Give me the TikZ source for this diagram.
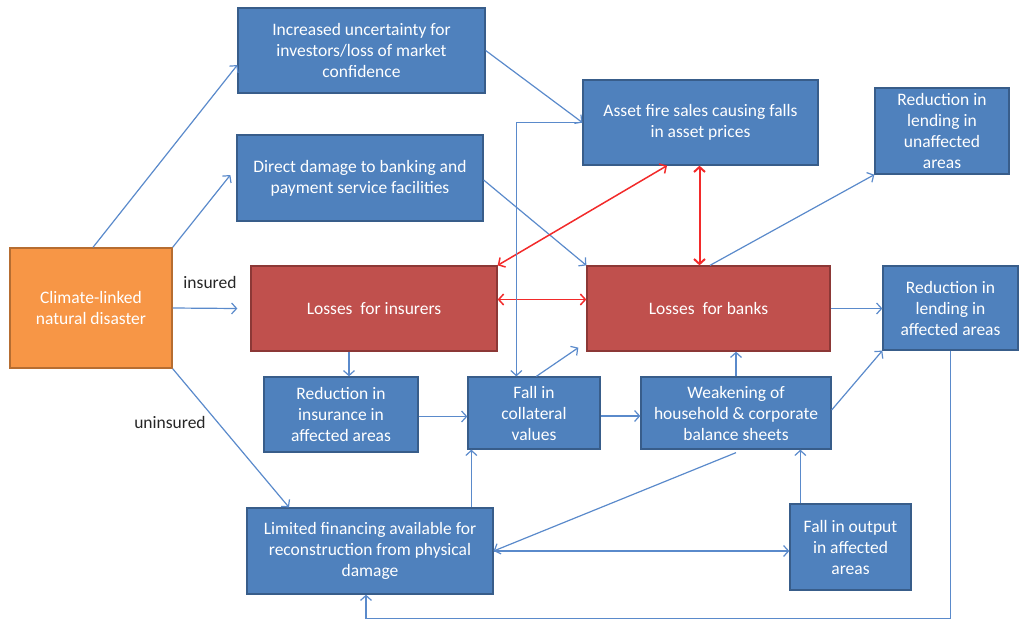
\documentclass[tikz,border=0pt]{standalone}
\usepackage{fontspec}
\setmainfont{Carlito}
\usetikzlibrary{arrows.meta}
\definecolor{bfill}{HTML}{4F81BD}
\definecolor{bdraw}{HTML}{385D8A}
\definecolor{rfill}{HTML}{C0504D}
\definecolor{rdraw}{HTML}{8C3836}
\definecolor{ofill}{HTML}{F79646}
\definecolor{odraw}{HTML}{B66D31}
\definecolor{lblue}{HTML}{5A8ACB}
\definecolor{rline}{HTML}{F22A2A}
\tikzset{
  box/.style={draw=bdraw, fill=bfill, line width=1.3pt, text=white, align=center, inner sep=0pt,
    font=\fontsize{17.5}{21}\selectfont},
  redbox/.style={box, draw=rdraw, fill=rfill},
  orbox/.style={box, draw=odraw, fill=ofill},
  conn/.style={draw=lblue, line width=1.2pt, -{Straight Barb[length=5pt,width=11pt]}},
  rconn/.style={draw=rline, line width=1.5pt, {Straight Barb[length=5pt,width=11pt]}-{Straight Barb[length=5pt,width=11pt]}},
  lbl/.style={text=black!85, font=\fontsize{17.5}{21}\selectfont, inner sep=0pt}
}
\begin{document}
\begin{tikzpicture}[x=1pt,y=-1pt]
\useasboundingbox (0,0) rectangle (1029,622);
% nodes
\node[box, minimum width=247pt, minimum height=85pt] (A) at (361.5,50.5) {Increased uncertainty for\\investors/loss of market\\confidence};
\node[box, minimum width=246pt, minimum height=86pt] (B) at (360,178) {Direct damage to banking and\\payment service facilities};
\node[orbox, minimum width=162pt, minimum height=120pt] (C) at (91,308) {Climate-linked\\natural disaster};
\node[redbox, minimum width=246pt, minimum height=85pt] (LI) at (374,308.5) {Losses\ \ for insurers};
\node[box, minimum width=235pt, minimum height=85pt] (AF) at (700.5,122.5) {Asset fire sales causing falls\\in asset prices};
\node[box, minimum width=134pt, minimum height=86pt] (RU) at (942,131) {Reduction in\\lending in\\unaffected\\areas};
\node[redbox, minimum width=243pt, minimum height=85pt] (LB) at (708.5,308.5) {Losses\ \ for banks};
\node[box, minimum width=135pt, minimum height=84pt] (RA) at (950.5,308) {Reduction in\\lending in\\affected areas};
\node[box, minimum width=154pt, minimum height=75pt] (RI) at (341,414.5) {Reduction in\\insurance in\\affected areas};
\node[box, minimum width=132pt, minimum height=72pt] (FC) at (534,413) {Fall in\\collateral\\values};
\node[box, minimum width=190pt, minimum height=72pt] (W) at (736,413) {Weakening of\\household \& corporate\\balance sheets};
\node[box, minimum width=246pt, minimum height=86pt] (LF) at (370,551) {Limited financing available for\\reconstruction from physical\\damage};
\node[box, minimum width=121pt, minimum height=86pt] (FO) at (850.5,547) {Fall in output\\in affected\\areas};
\node[lbl] (ins) at (210,282) {insured};
\node[lbl] (unins) at (170,422) {uninsured};
% connectors
\draw[conn] ([xshift=2pt]C.north) -- ([yshift=-14.5pt]A.west);
\draw[conn] (C.north east) -- ([xshift=-6pt,yshift=3pt]B.west);
\draw[conn] (C.east) -- ([xshift=-13pt]LI.west);
\draw[conn] (C.south east) -- ([xshift=-81pt]LF.north);
\draw[conn] (A.east) -- (AF.west);
\draw[conn] ([yshift=-2pt]B.east) -- (LB.north west);
\draw[rconn] (LI.north east) -- ([xshift=-33.5pt]AF.south);
\draw[rconn, line width=2pt] ([xshift=-1pt]AF.south) -- ([xshift=-1pt]AF.south |- LB.north);
\draw[rconn] ([yshift=9pt]LI.east) -- ([yshift=9pt]LB.west);
\draw[conn] ([xshift=1.5pt]LB.north) -- (RU.south west);
\draw[conn] (LB.east) -- (LB.east -| RA.west);
\draw[conn] (AF.west) -| ([xshift=49pt]FC.north west);
\draw[conn] ([xshift=8pt]RI.north |- LI.south) -- ([xshift=8pt]RI.north);
\draw[conn] ([yshift=-2pt]RI.east) -- ([yshift=-2pt]RI.east -| FC.west);
\draw[conn] ([xshift=69pt]FC.north west) -- ([xshift=-8pt,yshift=4pt]LB.south west);
\draw[conn] ([yshift=-3pt]FC.east) -- ([yshift=-3pt]FC.east -| W.west);
\draw[conn] (W.north) -- (W.north |- LB.south);
\draw[conn] ([yshift=3pt]W.east) -- (RA.south west);
\draw[conn] ([yshift=-3pt]W.south) -- (LF.east);
\draw[conn] (LF.east) -- (LF.east -| FO.west);
\draw[conn] ([xshift=11pt]FO.north west) -- ([xshift=11pt]FO.north west |- W.south);
\draw[conn] ([xshift=4pt]FC.south west |- LF.north) -- ([xshift=4pt]FC.south west);
\draw[conn] (RA.south) -- ++(0,268) -| ([xshift=-4pt]LF.south);
\end{tikzpicture}
\end{document}
